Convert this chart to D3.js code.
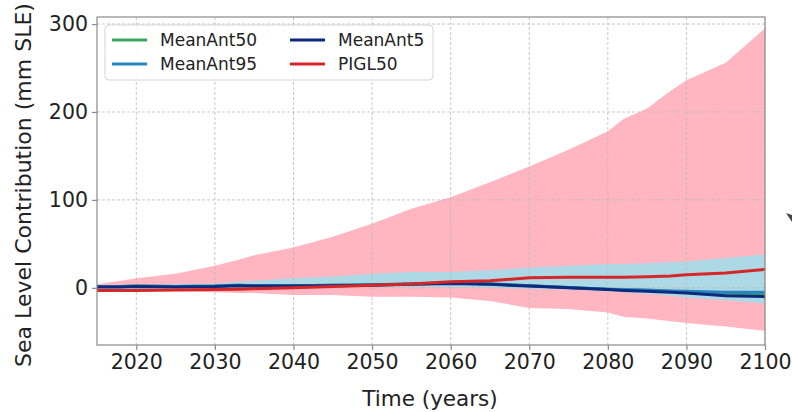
<!DOCTYPE html>
<html>
<head>
<meta charset="utf-8">
<script src="https://cdn.jsdelivr.net/npm/d3@7"></script>
<style>
  html, body { margin: 0; padding: 0; background: #fff; }
  svg { display: block; font-family: "DejaVu Sans", sans-serif; }
</style>
</head>
<body>
<svg id="chart" width="792" height="412"></svg>
<script>
// ---- data ----
const years      = [2015, 2018, 2020, 2025, 2030, 2033, 2035, 2040, 2045, 2050, 2055, 2060, 2065, 2070, 2075, 2080, 2082, 2085, 2088, 2090, 2095, 2100];
const piglUpper  = [4, 8, 11, 16, 25, 32, 37, 46, 58, 73, 90, 103, 120, 138, 157, 178, 192, 204, 224, 236, 256, 295];
const piglLower  = [-3, -4, -4, -4, -5, -6, -6, -8, -8, -10, -10, -11, -15, -23, -24, -28, -33, -35, -38, -40, -44, -49];
const antUpper   = [2, 3, 3, 4, 5, 7, 8, 11, 13, 16, 18, 18, 20, 23, 25, 27, 27, 28, 29, 30, 34, 38];
const antLower   = [-1, -1, -1, -1, -1, 0, 0, 0, 1, 1, 1, 1, 0, -1, -2, -4, -5, -7, -9, -11, -14, -18];
const meanAnt50  = [1.5, 1.5, 2, 1.5, 2, 3, 2.5, 2.5, 3, 3.5, 4.5, 5.5, 4.5, 2.5, 0.5, -1.5, -2.5, -3, -4, -5, -7, -7];
const meanAnt95  = [1.5, 1.5, 2, 1.5, 2, 3, 2.5, 2.5, 3, 3.5, 4.5, 5.5, 4.5, 2.5, 0.5, -1.5, -2, -2.5, -3.5, -4, -5, -5];
const meanAnt5   = [1, 1, 1.5, 1, 1.5, 2.5, 2, 2, 2.5, 3, 4, 5, 4, 2, 0, -2, -3, -4, -5, -6, -9, -10];
const pigl50     = [-3, -3, -3, -2.5, -2, -1.5, -1, 0, 1.5, 3, 4.5, 7, 8, 11.5, 12, 12, 12, 12.5, 13.5, 15, 17, 21];
const xTicks     = [2020, 2030, 2040, 2050, 2060, 2070, 2080, 2090, 2100];
const yTicks     = [0, 100, 200, 300];
const legendItems = [
  { name: "MeanAnt50", color: "#3ca55a" },
  { name: "MeanAnt95", color: "#2a84c0" },
  { name: "MeanAnt5",  color: "#0d2a7e" },
  { name: "PIGL50",    color: "#d62728" }
];

// ---- layout ----
const L = 97, R = 765, T = 17, B = 345;
const svg = d3.select("#chart");
const x = d3.scaleLinear().domain([2015, 2100]).range([L, R]);
const y = d3.scaleLinear().domain([-65, 308]).range([B, T]);

const idx = d3.range(years.length);

// bands
const band = (lo, hi) => d3.area().x(i => x(years[i])).y0(i => y(lo[i])).y1(i => y(hi[i]));
svg.append("path").datum(idx).attr("d", band(piglLower, piglUpper)).attr("fill", "#ffb6c1");
svg.append("path").datum(idx).attr("d", band(antLower, antUpper)).attr("fill", "#add8e6");

// grid
const grid = svg.append("g").attr("stroke", "#b9b9b9").attr("stroke-width", 0.8).attr("stroke-dasharray", "3,2");
grid.selectAll("line.v").data(xTicks).join("line")
  .attr("x1", d => x(d)).attr("x2", d => x(d)).attr("y1", T).attr("y2", B);
grid.selectAll("line.h").data(yTicks).join("line")
  .attr("y1", d => y(d)).attr("y2", d => y(d)).attr("x1", L).attr("x2", R);

// lines
const lineGen = arr => d3.line().x(i => x(years[i])).y(i => y(arr[i]));
const series = [meanAnt50, meanAnt95, meanAnt5, pigl50];
series.forEach((s, k) => {
  svg.append("path").datum(idx).attr("d", lineGen(s))
    .attr("fill", "none").attr("stroke", legendItems[k].color)
    .attr("stroke-width", 3).attr("stroke-linejoin", "round");
});

// frame
svg.append("rect").attr("x", L).attr("y", T).attr("width", R - L).attr("height", B - T)
  .attr("fill", "none").attr("stroke", "#8a8a8a").attr("stroke-width", 1.2);

// axes
const xAxis = svg.append("g").attr("transform", `translate(0,${B})`)
  .call(d3.axisBottom(x).tickValues(xTicks).tickFormat(d3.format("d")).tickSize(5).tickPadding(4));
const yAxis = svg.append("g").attr("transform", `translate(${L},0)`)
  .call(d3.axisLeft(y).tickValues(yTicks).tickSize(5).tickPadding(4));
[xAxis, yAxis].forEach(a => {
  a.select(".domain").remove();
  a.selectAll(".tick line").attr("stroke", "#8a8a8a").attr("stroke-width", 1.2);
  a.selectAll(".tick text").attr("fill", "#222").style("font-size", "20.5px")
    .style("font-family", "'DejaVu Sans', sans-serif");
});

// axis labels
svg.append("text").attr("x", 430).attr("y", 406).attr("text-anchor", "middle")
  .attr("fill", "#222").style("font-size", "21.5px").text("Time (years)");
svg.append("text").attr("transform", "translate(31,185) rotate(-90)").attr("text-anchor", "middle")
  .attr("fill", "#222").style("font-size", "22px").text("Sea Level Contribution (mm SLE)");

// legend
const lg = svg.append("g");
lg.append("rect").attr("x", 105).attr("y", 25).attr("width", 328).attr("height", 55).attr("rx", 4)
  .attr("fill", "#fff").attr("fill-opacity", 0.85).attr("stroke", "#d4d4d4");
legendItems.forEach((d, i) => {
  const col = Math.floor(i / 2), row = i % 2;
  const lx = 112 + col * 178, ly = 40 + row * 24;
  lg.append("line").attr("x1", lx).attr("x2", lx + 35).attr("y1", ly).attr("y2", ly)
    .attr("stroke", d.color).attr("stroke-width", 3);
  lg.append("text").attr("x", lx + 48).attr("y", ly + 6).attr("fill", "#222")
    .style("font-size", "17px").text(d.name);
});

// small cursor mark at the right edge
svg.append("path").attr("d", "M786,213 L792,215 L792,222 Z").attr("fill", "#444");
</script>
</body>
</html>
